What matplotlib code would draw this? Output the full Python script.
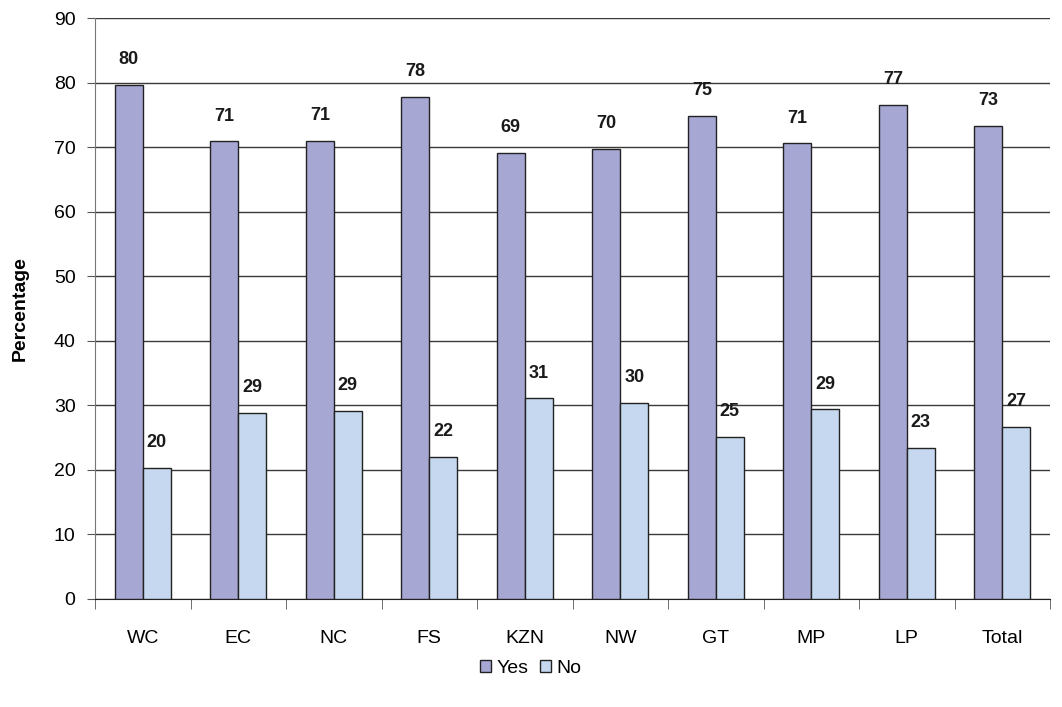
import matplotlib.pyplot as plt
import numpy as np

plt.rcParams['font.family'] = ['Liberation Sans', 'DejaVu Sans']

categories = ["WC", "EC", "NC", "FS", "KZN", "NW", "GT", "MP", "LP", "Total"]
yes_values = [79.7, 70.9, 71.0, 77.8, 69.1, 69.7, 74.8, 70.6, 76.6, 73.3]
no_values = [20.3, 28.8, 29.1, 22.0, 31.1, 30.4, 25.1, 29.4, 23.4, 26.7]
yticks = list(range(0, 100, 10))

yes_color = "#A7A7D3"
no_color = "#C5D8EF"

fig = plt.figure(figsize=(10.62, 7.07), dpi=100)
ax = fig.add_axes([0.0895, 0.1528, 0.8992, 0.8217])

x = np.arange(len(categories))
w = 0.293
b1 = ax.bar(x - w / 2, yes_values, w, color=yes_color, edgecolor="#222222",
            linewidth=1.0, label="Yes", zorder=3)
b2 = ax.bar(x + w / 2, no_values, w, color=no_color, edgecolor="#222222",
            linewidth=1.0, label="No", zorder=3)

for bars, vals in ((b1, yes_values), (b2, no_values)):
    for rect, v in zip(bars, vals):
        ax.annotate(f"{v:.0f}", (rect.get_x() + rect.get_width() / 2, v),
                    xytext=(0, 12), textcoords="offset points",
                    ha="center", va="bottom", fontsize=13, fontweight="bold",
                    color="#1a1a1a")

ax.set_xlim(-0.5, len(categories) - 0.5)
ax.set_ylim(0, 90)
ax.set_yticks(yticks)
ax.yaxis.grid(True, color="#3a3a3a", linewidth=1.0, zorder=0)
ax.set_axisbelow(True)

ax.set_xticks(x)
ax.set_xticklabels(categories, fontsize=14)
ax.set_xticks(np.arange(len(categories) + 1) - 0.5, minor=True)
ax.tick_params(axis="x", which="major", length=0, pad=22)
ax.tick_params(axis="x", which="minor", length=7, color="#555555", direction="out")
ax.tick_params(axis="y", labelsize=14, length=6, color="#555555", pad=8)

for side in ("top", "right"):
    ax.spines[side].set_visible(False)
ax.spines["left"].set_color("#777777")
ax.spines["bottom"].set_color("#222222")

ax.set_ylabel("Percentage", fontsize=14, fontweight="bold", labelpad=18)

fig.legend(handles=[b1, b2], labels=["Yes", "No"], loc="center",
           bbox_to_anchor=(0.5, 0.055), ncol=2, frameon=False, fontsize=14,
           handlelength=0.55, handleheight=0.55, handletextpad=0.3,
           columnspacing=0.6)

fig.savefig("out.png", dpi=100)
